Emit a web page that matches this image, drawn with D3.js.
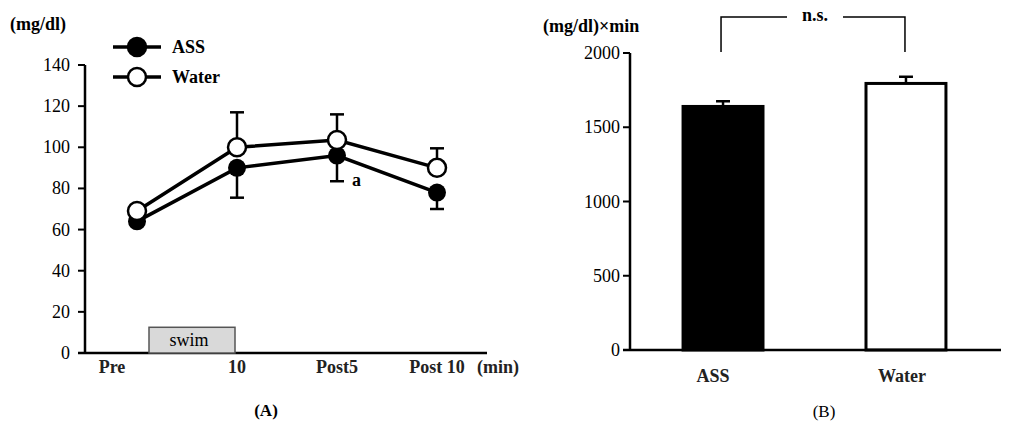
<!DOCTYPE html><html><head><meta charset="utf-8"><script src="https://cdn.jsdelivr.net/npm/d3@7"></script>
<style>body{margin:0;background:#fff}</style></head><body><svg id="c" width="1024" height="439" font-family="'Liberation Serif','DejaVu Serif','Times New Roman',serif"></svg>
<script>
const timeLabels=["Pre","10","Post5","Post 10"];
const assMean=[64,90,96,78];
const assErr=[2,14.5,12.5,8];
const waterMean=[69,100,103.5,90];
const waterErr=[2,17,12.5,9.5];
const yTicksA=[0,20,40,60,80,100,120,140];
const groups=["ASS","Water"];
const aucMean=[1640,1795];
const aucErr=[35,45];
const yTicksB=[0,500,1000,1500,2000];

const svg=d3.select("#c");
// Panel A
const x=d3.scalePoint().domain(timeLabels).range([137,437]);
const y=d3.scaleLinear().domain([0,140]).range([353,65]);
const gA=svg.append("g");
gA.append("line").attr("x1",85).attr("x2",85).attr("y1",y(140)).attr("y2",y(0)).attr("stroke","#000").attr("stroke-width",2.5);
gA.append("line").attr("x1",78).attr("x2",487).attr("y1",y(0)).attr("y2",y(0)).attr("stroke","#000").attr("stroke-width",2.5);
yTicksA.forEach(t=>{gA.append("line").attr("x1",78).attr("x2",85).attr("y1",y(t)).attr("y2",y(t)).attr("stroke","#000").attr("stroke-width",2);
 gA.append("text").attr("x",70).attr("y",y(t)+6).attr("text-anchor","end").attr("font-size",18).text(t);});
timeLabels.forEach(t=>gA.append("text").attr("x",x(t)-(t==="Pre"?25:0)).attr("y",373).attr("text-anchor","middle").attr("font-size",18).attr("font-weight","bold").attr("fill","#222").text(t));
gA.append("text").attr("x",498).attr("y",373).attr("text-anchor","middle").attr("font-size",18).attr("font-weight","bold").attr("fill","#222").text("(min)");
gA.append("text").attr("x",10).attr("y",30).attr("font-size",18).attr("font-weight","bold").text("(mg/dl)");
gA.append("rect").attr("x",149).attr("y",y(12.5)).attr("width",86).attr("height",y(0)-y(12.5)).attr("fill","#d9d9d9").attr("stroke","#555").attr("stroke-width",1.5);
gA.append("text").attr("x",189).attr("y",y(3.5)).attr("text-anchor","middle").attr("font-size",18).text("swim");
const line=d3.line().x((d,i)=>x(timeLabels[i])).y(d=>y(d));
function series(m,e,up){
 m.forEach((v,i)=>{const xx=x(timeLabels[i]);const y2=up?y(v+e[i]):y(v-e[i]);
  gA.append("line").attr("x1",xx).attr("x2",xx).attr("y1",y(v)).attr("y2",y2).attr("stroke","#000").attr("stroke-width",2.5);
  gA.append("line").attr("x1",xx-7).attr("x2",xx+7).attr("y1",y2).attr("y2",y2).attr("stroke","#000").attr("stroke-width",2.5);});
}
series(assMean,assErr,false);series(waterMean,waterErr,true);
gA.append("path").attr("d",line(assMean)).attr("fill","none").attr("stroke","#000").attr("stroke-width",3.5);
gA.append("path").attr("d",line(waterMean)).attr("fill","none").attr("stroke","#000").attr("stroke-width",3.5);
assMean.forEach((v,i)=>gA.append("circle").attr("cx",x(timeLabels[i])).attr("cy",y(v)).attr("r",9).attr("fill","#000"));
waterMean.forEach((v,i)=>gA.append("circle").attr("cx",x(timeLabels[i])).attr("cy",y(v)).attr("r",9).attr("fill","#fff").attr("stroke","#000").attr("stroke-width",2.5));
gA.append("text").attr("x",352).attr("y",186).attr("font-size",18).attr("font-weight","bold").text("a");
[["ASS","#000",47],["Water","#fff",77]].forEach(([n,f,yy])=>{
 gA.append("line").attr("x1",113).attr("x2",161).attr("y1",yy).attr("y2",yy).attr("stroke","#000").attr("stroke-width",3.5);
 gA.append("circle").attr("cx",137).attr("cy",yy).attr("r",9).attr("fill",f).attr("stroke","#000").attr("stroke-width",2.5);
 gA.append("text").attr("x",172).attr("y",yy+6).attr("font-size",18).attr("font-weight","bold").text(n);});
gA.append("text").attr("x",266).attr("y",416).attr("text-anchor","middle").attr("font-size",17).attr("font-weight","bold").text("(A)");

// Panel B
const xb=d3.scaleBand().domain(groups).range([630,999]).paddingInner(0.563).paddingOuter(0.29);
const yb=d3.scaleLinear().domain([0,2000]).range([350,53]);
const gB=svg.append("g");
groups.forEach((g,i)=>{const bx=xb(g),bw=xb.bandwidth(),cx=bx+bw/2;
 const ye=yb(aucMean[i]+aucErr[i]);
 gB.append("line").attr("x1",cx).attr("x2",cx).attr("y1",yb(aucMean[i])).attr("y2",ye).attr("stroke","#000").attr("stroke-width",2.5);
 gB.append("line").attr("x1",cx-7).attr("x2",cx+7).attr("y1",ye).attr("y2",ye).attr("stroke","#000").attr("stroke-width",2.5);
 gB.append("rect").attr("x",bx).attr("y",yb(aucMean[i])).attr("width",bw).attr("height",yb(0)-yb(aucMean[i])).attr("fill",i?"#fff":"#000").attr("stroke","#000").attr("stroke-width",3);
 gB.append("text").attr("x",cx-(i?4:10)).attr("y",382).attr("text-anchor","middle").attr("font-size",18).attr("font-weight","bold").attr("fill","#222").text(g);});
gB.append("line").attr("x1",630).attr("x2",630).attr("y1",yb(2000)).attr("y2",yb(0)).attr("stroke","#000").attr("stroke-width",2.5);
gB.append("line").attr("x1",623).attr("x2",1001).attr("y1",yb(0)).attr("y2",yb(0)).attr("stroke","#000").attr("stroke-width",2.5);
yTicksB.forEach(t=>{gB.append("line").attr("x1",623).attr("x2",630).attr("y1",yb(t)).attr("y2",yb(t)).attr("stroke","#000").attr("stroke-width",2);
 gB.append("text").attr("x",620).attr("y",yb(t)+6).attr("text-anchor","end").attr("font-size",18).text(t);});
gB.append("text").attr("x",543).attr("y",32).attr("font-size",18).attr("font-weight","bold").text("(mg/dl)×min");
const c0=xb(groups[0])+xb.bandwidth()/2-2,c1=xb(groups[1])+xb.bandwidth()/2-1;
gB.append("path").attr("d",`M${c0},52V17H787M843,17H${c1}V52`).attr("fill","none").attr("stroke","#000").attr("stroke-width",1.5);
gB.append("text").attr("x",815).attr("y",21).attr("text-anchor","middle").attr("font-size",18).attr("font-weight","bold").text("n.s.");
gB.append("text").attr("x",824).attr("y",417).attr("text-anchor","middle").attr("font-size",17).text("(B)");
</script></body></html>
